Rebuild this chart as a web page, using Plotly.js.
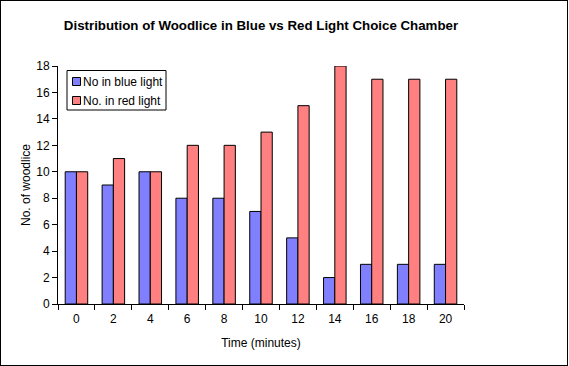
<!DOCTYPE html>
<html>
<head>
<meta charset="utf-8">
<script src="https://cdn.plot.ly/plotly-3.0.1.min.js"></script>
<style>
html,body{margin:0;padding:0;background:#fff;}
#wrap{position:relative;width:569px;height:366px;}
#chart{width:569px;height:366px;}
#frame{position:absolute;left:0;top:0;width:568px;height:366px;box-sizing:border-box;border:1px solid #000;pointer-events:none;}
</style>
</head>
<body>
<div id="wrap"><div id="chart"></div><div id="frame"></div></div>
<script>
const times = ['0','2','4','6','8','10','12','14','16','18','20'];
const blueLight = [10,9,10,8,8,7,5,2,3,3,3];
const redLight = [10,11,10,12,12,13,15,18,17,17,17];
const yTicks = [0,2,4,6,8,10,12,14,16,18];
const seriesNames = ['No in blue light','No. in red light'];
const seriesColors = ['#8080FF','#FF8080'];

const font = {family:'Liberation Sans, Arial, sans-serif', size:12, color:'#000'};

const traces = [
  {type:'bar', name:seriesNames[0], x:times, y:blueLight, showlegend:false,
   marker:{color:seriesColors[0], line:{color:'#000', width:1}}},
  {type:'bar', name:seriesNames[1], x:times, y:redLight, showlegend:false,
   marker:{color:seriesColors[1], line:{color:'#000', width:1}}}
];

// legend drawn in paper coordinates (plot area: 58..464 px wide, 66..304 px tall)
const L = 58, W = 406, B = 304, H = 238;
const px = v => (v - L) / W;
const py = v => (B - v) / H;

const shapes = [
  {type:'rect', xref:'paper', yref:'paper', x0:px(67), x1:px(166), y0:py(110), y1:py(70.5),
   line:{color:'#000', width:1}, fillcolor:'#fff', layer:'above'}
];
const annotations = [];
const rowY = [81.5, 100.5];
seriesNames.forEach((n, i) => {
  shapes.push({type:'rect', xref:'paper', yref:'paper', x0:px(72.5), x1:px(80.5),
    y0:py(rowY[i] + 4), y1:py(rowY[i] - 4), line:{color:'#000', width:1},
    fillcolor:seriesColors[i], layer:'above'});
  annotations.push({xref:'paper', yref:'paper', x:px(82), y:py(rowY[i]), xanchor:'left',
    yanchor:'middle', text:n, showarrow:false, font:font, borderpad:0});
});

const layout = {
  width:569, height:366,
  margin:{l:58, r:105, t:66, b:62},
  paper_bgcolor:'#fff', plot_bgcolor:'#fff',
  font:font,
  showlegend:false,
  barmode:'group', bargap:0.39, bargroupgap:0,
  title:{text:'Distribution of Woodlice in Blue vs Red Light Choice Chamber',
    font:{family:'Liberation Sans, Arial, sans-serif', size:13.3, color:'#000', weight:'bold'},
    xref:'paper', x:0.5, xanchor:'center', y:0.93, yanchor:'middle'},
  xaxis:{type:'category', range:[-0.5,10.5], tickson:'boundaries', ticks:'outside', ticklen:5,
    tickcolor:'#000', showline:true, linecolor:'#000', linewidth:1, showgrid:false, zeroline:false,
    tickfont:font, fixedrange:true, ticklabelstandoff:4,
    title:{text:'Time (minutes)', font:font, standoff:13}},
  yaxis:{range:[0,18], tickvals:yTicks, ticks:'outside', ticklen:5, tickcolor:'#000',
    showline:true, linecolor:'#000', linewidth:1, showgrid:false, zeroline:false,
    tickfont:font, fixedrange:true,
    title:{text:'No. of woodlice', font:font, standoff:3}},
  shapes:shapes,
  annotations:annotations
};

Plotly.newPlot('chart', traces, layout, {staticPlot:true, displayModeBar:false});
</script>
</body>
</html>
